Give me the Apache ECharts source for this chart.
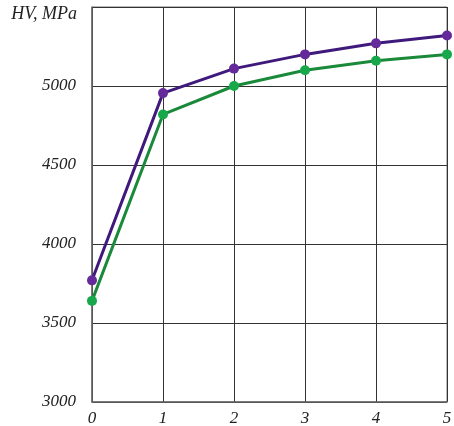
<!DOCTYPE html>
<html>
<head>
<meta charset="utf-8">
<script src="https://cdn.jsdelivr.net/npm/echarts@6/dist/echarts.min.js"></script>
<style>
  html, body { margin: 0; padding: 0; background: #fff; }
  #chart { width: 454px; height: 426px; }
</style>
</head>
<body>
<div id="chart"></div>
<script>
// Annealing time steps on the x axis
const xValues = [0, 1, 2, 3, 4, 5];
// Hardness HV, MPa
const hvPurple = [3770, 4955, 5110, 5200, 5270, 5320];
const hvGreen = [3640, 4820, 5000, 5100, 5160, 5200];
const yAxisTitle = 'HV, MPa';

const font = '"Liberation Serif", "DejaVu Serif", serif';
const chart = echarts.init(document.getElementById('chart'), null, { renderer: 'canvas' });

function pairs(vals) {
  return xValues.map((x, i) => [x, vals[i]]);
}

chart.setOption({
  animation: false,
  backgroundColor: '#ffffff',
  grid: {
    left: 92, right: 7, top: 7, bottom: 24,
    outerBoundsMode: 'none', containLabel: false,
    show: true, borderColor: '#777', borderWidth: 1
  },
  graphic: [{
    type: 'text', right: 454 - 77, top: 5,
    style: { text: yAxisTitle, fill: '#222', font: 'italic 18px ' + font }
  }],
  xAxis: {
    type: 'value', min: 0, max: 5, interval: 1,
    axisLine: { show: true, lineStyle: { color: '#666', width: 1.5 } },
    axisTick: { show: false },
    splitLine: { show: true, lineStyle: { color: '#333', width: 1 } },
    axisLabel: { color: '#222', fontFamily: font, fontStyle: 'italic', fontSize: 17, margin: 8 }
  },
  yAxis: {
    type: 'value', min: 3000, max: 5500, interval: 500,
    axisLine: { show: true, lineStyle: { color: '#666', width: 1.5 } },
    axisTick: { show: false },
    splitLine: { show: true, lineStyle: { color: '#333', width: 1 } },
    axisLabel: {
      color: '#222', fontFamily: font, fontStyle: 'italic', fontSize: 17, margin: 16,
      formatter: v => (v >= 5500 ? '' : String(v))
    }
  },
  series: [
    {
      type: 'line', data: pairs(hvPurple),
      symbol: 'circle', symbolSize: 10,
      lineStyle: { color: '#3f1a7c', width: 3 },
      itemStyle: { color: '#642a9c', borderWidth: 0 },
      z: 3
    },
    {
      type: 'line', data: pairs(hvGreen),
      symbol: 'circle', symbolSize: 10,
      lineStyle: { color: '#1a8a3a', width: 3 },
      itemStyle: { color: '#18a84c', borderWidth: 0 },
      z: 2
    }
  ]
});
</script>
</body>
</html>
